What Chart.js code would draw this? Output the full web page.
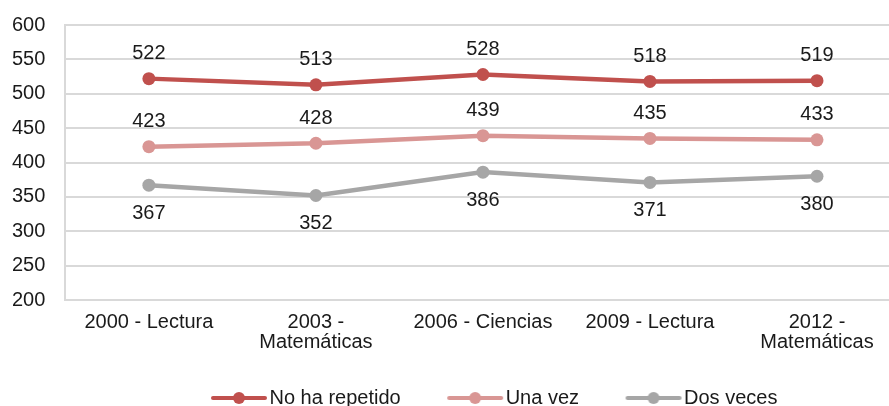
<!DOCTYPE html>
<html>
<head>
<meta charset="utf-8">
<script src="https://cdn.jsdelivr.net/npm/chart.js@4.4.1/dist/chart.umd.min.js"></script>
<style>
    html, body { margin: 0; padding: 0; background: #ffffff; overflow: hidden; }
    #wrap { width: 889px; height: 406px; overflow: hidden; position: relative; }
    #box { width: 919px; height: 406px; position: absolute; left: -12px; top: 0; }
</style>
</head>
<body>
<div id="wrap"><div id="box"><canvas id="myChart"></canvas></div></div>
<script>
// Data
const categories = [['2000 - Lectura'], ['2003 -', 'Matemáticas'], ['2006 - Ciencias'], ['2009 - Lectura'], ['2012 -', 'Matemáticas']];
const noHaRepetido = [522, 513, 528, 518, 519];
const unaVez = [423, 428, 439, 435, 433];
const dosVeces = [367, 352, 386, 371, 380];
const yTicks = [200, 250, 300, 350, 400, 450, 500, 550, 600];

const colors = ['#c0504d', '#d99694', '#a6a6a6'];
const labelSide = ['above', 'above', 'below'];
const FONT = '"Liberation Sans", Arial, sans-serif';

// legend marker: line with a dot in the middle (leading blank space = gap between items)
function legendMarker(color) {
    const c = document.createElement('canvas');
    c.width = 92;
    c.height = 14;
    const g = c.getContext('2d');
    g.strokeStyle = color;
    g.lineWidth = 4;
    g.lineCap = 'round';
    g.beginPath();
    g.moveTo(35, 7);
    g.lineTo(87, 7);
    g.stroke();
    g.fillStyle = color;
    g.beginPath();
    g.arc(61, 7, 6, 0, Math.PI * 2);
    g.fill();
    return c;
}

// value labels above / below points
const valueLabels = {
    id: 'valueLabels',
    afterDatasetsDraw(chart) {
        const ctx = chart.ctx;
        ctx.save();
        ctx.font = '20px ' + FONT;
        ctx.fillStyle = '#1a1a1a';
        ctx.textAlign = 'center';
        ctx.textBaseline = 'middle';
        chart.data.datasets.forEach((ds, i) => {
            const meta = chart.getDatasetMeta(i);
            meta.data.forEach((pt, j) => {
                const dy = labelSide[i] === 'above' ? -25 : 28;
                ctx.fillText(String(ds.data[j]), pt.x, pt.y + dy);
            });
        });
        ctx.restore();
    }
};

const ctx = document.getElementById('myChart').getContext('2d');
Chart.defaults.font.family = FONT;
Chart.defaults.font.size = 20;
Chart.defaults.color = '#1a1a1a';

new Chart(ctx, {
    type: 'line',
    data: {
        labels: categories,
        datasets: [
            { label: 'No ha repetido', data: noHaRepetido },
            { label: 'Una vez', data: unaVez },
            { label: 'Dos veces', data: dosVeces }
        ].map((d, i) => Object.assign(d, {
            borderColor: colors[i],
            backgroundColor: colors[i],
            pointBackgroundColor: colors[i],
            pointBorderWidth: 0,
            pointRadius: 6.5,
            pointStyle: 'circle',
            borderWidth: 4.5,
            fill: false,
            tension: 0
        }))
    },
    options: {
        responsive: true,
        maintainAspectRatio: false,
        animation: false,
        layout: { padding: { top: 0, left: 4, right: 0, bottom: -12 } },
        scales: {
            x: {
                offset: true,
                grid: { display: false, drawTicks: false },
                border: { color: '#d9d9d9', width: 2 },
                ticks: { padding: 12, maxRotation: 0, autoSkip: false, color: '#1a1a1a', font: { lineHeight: 1.0 } }
            },
            y: {
                min: 200,
                max: 600,
                afterBuildTicks: axis => { axis.ticks = yTicks.map(v => ({ value: v })); },
                grid: { color: '#d9d9d9', lineWidth: 2, drawTicks: false },
                border: { color: '#d9d9d9', width: 2 },
                ticks: { padding: 20, color: '#1a1a1a', font: { lineHeight: 0.5 } }
            }
        },
        plugins: {
            legend: {
                position: 'bottom',
                fullSize: false,
                labels: {
                    usePointStyle: true,
                    pointStyleWidth: 71,
                    padding: 24,
                    color: '#1a1a1a',
                    generateLabels: chart => chart.data.datasets.map((ds, i) => ({
                        text: ds.label,
                        pointStyle: legendMarker(colors[i]),
                        fillStyle: colors[i],
                        strokeStyle: colors[i],
                        lineWidth: 0,
                        datasetIndex: i,
                        fontColor: '#1a1a1a'
                    }))
                }
            },
            tooltip: { enabled: false }
        }
    },
    plugins: [valueLabels]
});
</script>
</body>
</html>
